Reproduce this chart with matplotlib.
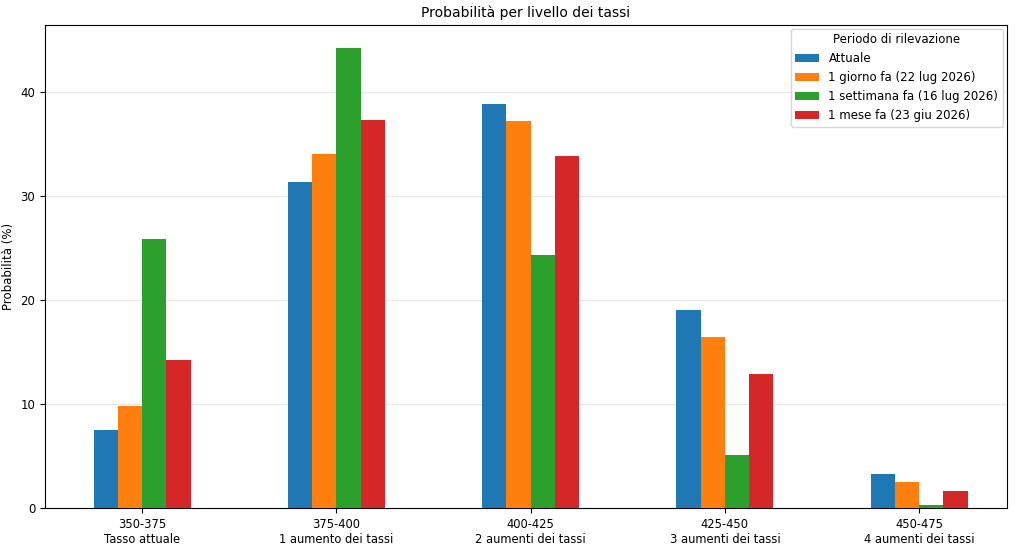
import numpy as np
import matplotlib
matplotlib.use('Agg')
import matplotlib.pyplot as plt

categories = ['350-375\nTasso attuale', '375-400\n1 aumento dei tassi',
              '400-425\n2 aumenti dei tassi', '425-450\n3 aumenti dei tassi',
              '450-475\n4 aumenti dei tassi']
series_names = ['Attuale', '1 giorno fa (22 lug 2026)',
                '1 settimana fa (16 lug 2026)', '1 mese fa (23 giu 2026)']
attuale = [7.5, 31.3, 38.8, 19.0, 3.3]
giorno = [9.8, 34.0, 37.2, 16.4, 2.5]
settimana = [25.9, 44.2, 24.3, 5.1, 0.3]
mese = [14.2, 37.3, 33.8, 12.9, 1.65]

values = [attuale, giorno, settimana, mese]
colors = ['#1f77b4', '#ff7f0e', '#2ca02c', '#d62728']

fig, ax = plt.subplots(figsize=(10.24, 5.48), dpi=100)
x = np.arange(len(categories))
w = 0.125
for i, (vals, name) in enumerate(zip(values, series_names)):
    ax.bar(x + (i - 1.5) * w, vals, width=w, color=colors[i], label=name, zorder=3)

ax.set_xticks(x)
ax.set_xticklabels(categories, fontsize=8.3)
ax.set_xlim(-0.5, 4.45)
ax.set_ylabel('Probabilità (%)', fontsize=8.5)
ax.set_title('Probabilità per livello dei tassi', fontsize=10)
ax.tick_params(axis='y', labelsize=8.5)
ax.grid(axis='y', alpha=0.3, zorder=0)
ax.legend(title='Periodo di rilevazione', fontsize=8.5, title_fontsize=8.5,
          loc='upper right', borderaxespad=0.3)

plt.subplots_adjust(left=0.044, right=0.983, top=0.954, bottom=0.073)
plt.savefig('out.png')
